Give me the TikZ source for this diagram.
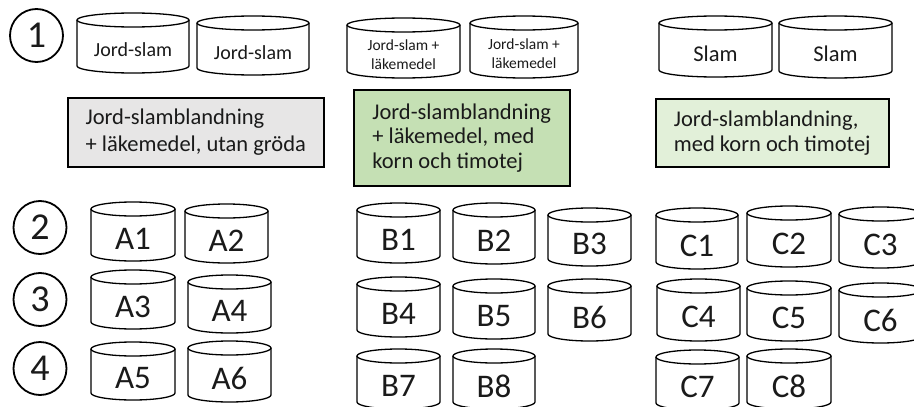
\documentclass[tikz,border=0pt]{standalone}
\usepackage{fontspec}
\setmainfont{Carlito}
\definecolor{boxgray}{HTML}{E7E6E6}
\definecolor{boxgreen}{HTML}{C5E0B4}
\definecolor{boxlight}{HTML}{E2F0D9}
\definecolor{ink}{HTML}{1A1A1A}
\newcommand\drum[7]{%
  \pgfmathsetmacro\dcx{(#2+#3)/2}%
  \pgfmathsetmacro\drx{(#3-#2)/2}%
  \pgfmathsetmacro\dty{#4+7}%
  \pgfmathsetmacro\dby{#5-7}%
  \pgfmathsetmacro\dmy{(#4+14+#5)/2}%
  \draw[drumline] (#2,\dty) -- (#2,\dby) arc[start angle=180,end angle=360,x radius=\drx pt,y radius=7pt] -- (#3,\dty);
  \draw[drumline] (\dcx,\dty) ellipse[x radius=\drx pt,y radius=7pt];
  \node[#6] (#1) at (\dcx,\dmy) {#7};
}
\tikzset{
  drumline/.style={line width=1.3pt, black},
  biglab/.style={font=\fontsize{33}{33}\selectfont, inner sep=0pt, text=ink},
  toplab/.style={font=\fontsize{20}{22}\selectfont, inner sep=0pt, text=ink},
  slamlab/.style={font=\fontsize{22.5}{24}\selectfont, inner sep=0pt, text=ink},
  smalllab/.style={font=\fontsize{15.5}{19}\selectfont, inner sep=0pt, align=center, text=ink},
  numcirc/.style={circle, draw, line width=1.8pt, minimum size=53pt, inner sep=0pt, font=\fontsize{38}{38}\selectfont, text=ink},
  infobox/.style={draw, line width=1.5pt, align=left, inner xsep=15pt, inner ysep=0pt, text=ink, anchor=north west},
}
\begin{document}
\begin{tikzpicture}[x=1pt,y=-1pt]
\useasboundingbox (0,0) rectangle (914,407);
\clip (0,0) rectangle (914,407);
% numbered circles
\node[numcirc] (n1) at (36.5,35.5) {1};
\node[numcirc] (n2) at (40,227.5) {2};
\node[numcirc] (n3) at (40,299.5) {3};
\node[numcirc] (n4) at (40,368.5) {4};
% top row
\drum{j1}{77}{189}{13}{73}{toplab}{Jord-slam}
\drum{j2}{197}{309}{16}{75}{toplab}{Jord-slam}
\drum{jl1}{347}{460}{18}{78}{smalllab}{Jord-slam +\\läkemedel}
\drum{jl2}{470}{578}{16}{78}{smalllab}{Jord-slam +\\läkemedel}
\drum{s1}{659}{772}{16}{77}{slamlab}{Slam}
\drum{s2}{779}{892}{16}{78}{slamlab}{Slam}
% boxes
\node[infobox, fill=boxgray, minimum width=256pt, minimum height=69pt, font=\fontsize{22.5}{27}\selectfont] (ga) at (67,97)
  {\mbox{Jord-slamblandning}\\\mbox{+ läkemedel, utan gröda}};
\node[infobox, fill=boxgreen, minimum width=216pt, minimum height=96pt, font=\fontsize{22.5}{24.5}\selectfont] (gb) at (353,89)
  {\mbox{Jord-slamblandning}\\\mbox{+ läkemedel, med}\\\mbox{korn och timotej}};
\node[infobox, fill=boxlight, minimum width=233pt, minimum height=68pt, font=\fontsize{22.5}{25}\selectfont] (gc) at (655,98)
  {\mbox{Jord-slamblandning,}\\\mbox{med korn och timotej}};
% A
\drum{a1}{91}{175}{202}{261}{biglab}{A1}
\drum{a2}{185}{268}{204}{263}{biglab}{A2}
\drum{a3}{91}{175}{270}{329}{biglab}{A3}
\drum{a4}{188}{271}{275}{333}{biglab}{A4}
\drum{a5}{91}{175}{342}{400}{biglab}{A5}
\drum{a6}{188}{271}{341}{402}{biglab}{A6}
% B
\drum{b1}{357}{440}{203}{263}{biglab}{B1}
\drum{b2}{453}{535}{203}{264}{biglab}{B2}
\drum{b3}{548}{631}{208}{266}{biglab}{B3}
\drum{b4}{357}{440}{277}{337}{biglab}{B4}
\drum{b5}{453}{535}{279}{339}{biglab}{B5}
\drum{b6}{548}{631}{279}{341}{biglab}{B6}
\drum{b7}{357}{440}{349}{409}{biglab}{B7}
\drum{b8}{453}{535}{349}{409}{biglab}{B8}
% C
\drum{c1}{656}{738}{208}{269}{biglab}{C1}
\drum{c2}{747}{831}{206}{267}{biglab}{C2}
\drum{c3}{839}{922}{207}{268}{biglab}{C3}
\drum{c4}{657}{740}{279}{341}{biglab}{C4}
\drum{c5}{747}{831}{281}{341}{biglab}{C5}
\drum{c6}{839}{922}{283}{343}{biglab}{C6}
\drum{c7}{656}{739}{350}{410}{biglab}{C7}
\drum{c8}{747}{831}{349}{409}{biglab}{C8}
\end{tikzpicture}
\end{document}
